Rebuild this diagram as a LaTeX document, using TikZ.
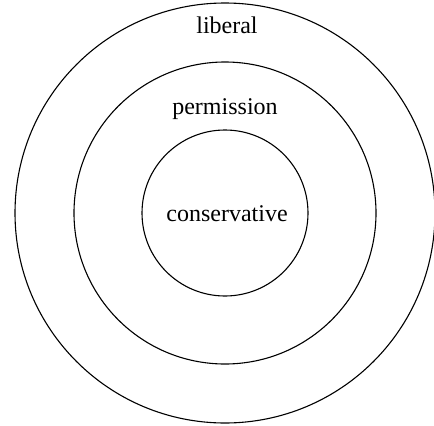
\documentclass[tikz,border=0pt]{standalone}
\usepackage{fontspec}
\setmainfont{Liberation Serif}
\usetikzlibrary{calc}

\tikzset{
  ring/.style={draw, line width=0.55pt},
  tag/.style={font=\fontsize{12pt}{14pt}\selectfont, anchor=base, inner sep=0pt}
}

\begin{document}
\begin{tikzpicture}
    \useasboundingbox (0,0) rectangle (217pt,212.5pt);
    \coordinate (ctr) at (112.5pt,106pt);
    % nested scopes, outermost first
    \draw[ring] (ctr) circle (105pt);
    \draw[ring] (ctr) circle (75.5pt);
    \draw[ring] (ctr) circle (41.5pt);
    \node[tag] (liberal) at ($(ctr)+(1pt,90pt)$) {liberal};
    \node[tag] (permission) at ($(ctr)+(0pt,49.5pt)$) {permission};
    \node[tag] (conservative) at ($(ctr)+(1pt,-4pt)$) {conservative};
\end{tikzpicture}
\end{document}
